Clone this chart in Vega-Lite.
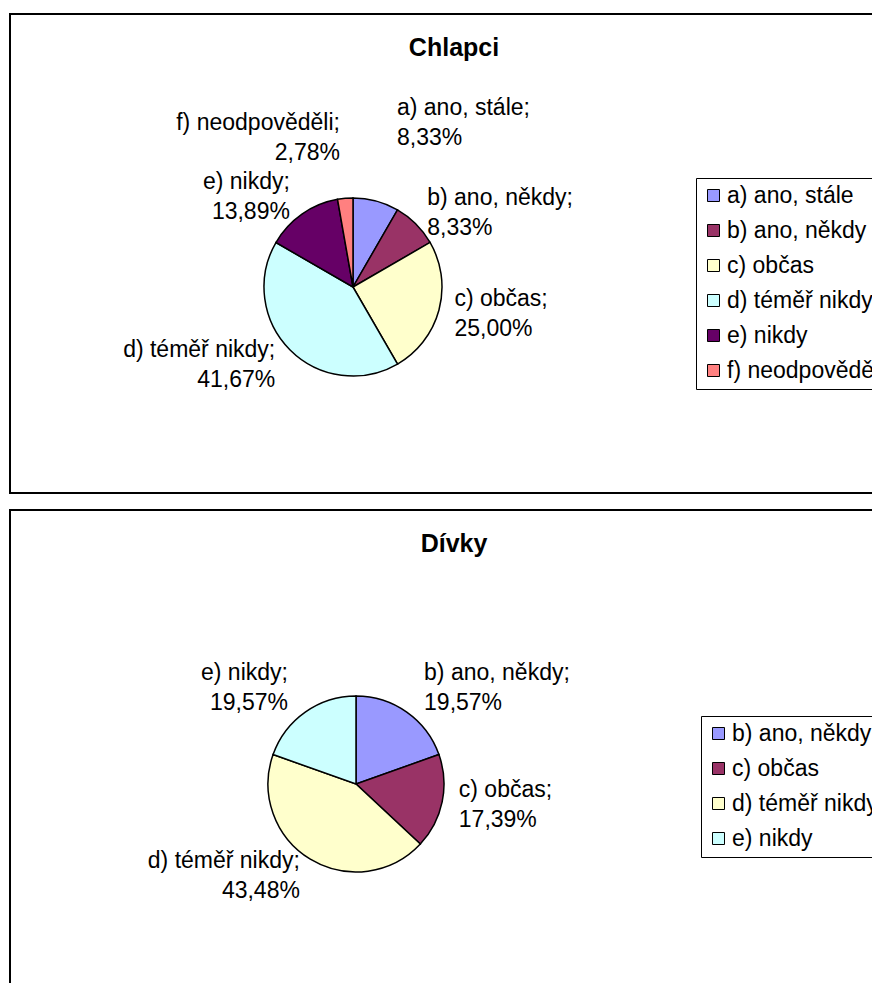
{
  "$schema": "https://vega.github.io/schema/vega-lite/v6.json",
  "padding": {"left": 9, "top": 13, "right": 0, "bottom": 0},
  "spacing": 15,
  "background": "white",
  "config": {
    "view": {"stroke": "black", "strokeWidth": 2},
    "font": "Liberation Sans",
    "title": {"font": "Liberation Sans", "fontSize": 25, "fontWeight": "bold", "color": "black", "anchor": "middle", "baseline": "alphabetic", "offset": -47},
    "text": {"baseline": "middle", "fontSize": 23, "lineHeight": 30, "dy": -15, "font": "Liberation Sans", "color": "black"},
    "legend": {
      "orient": "none", "title": null,
      "symbolType": "square", "symbolSize": 144, "symbolStrokeColor": "black", "symbolStrokeWidth": 1,
      "labelFontSize": 23, "labelFont": "Liberation Sans", "labelColor": "black", "labelLimit": 400,
      "rowPadding": 11, "labelOffset": 2, "padding": 6,
      "strokeColor": "black", "fillColor": "white"
    }
  },
  "resolve": {
    "scale": {"color": "independent", "theta": "independent", "x": "independent", "y": "independent"},
    "legend": {"color": "independent"}
  },
  "vconcat": [
    {
      "width": 888,
      "height": 479,
      "title": {"text": "Chlapci"},
      "data": {"values": [
        {"k": "a) ano, stále", "v": 8.33},
        {"k": "b) ano, někdy", "v": 8.33},
        {"k": "c) občas", "v": 25.00},
        {"k": "d) téměř nikdy", "v": 41.67},
        {"k": "e) nikdy", "v": 13.89},
        {"k": "f) neodpověděli", "v": 2.78}
      ]},
      "transform": [
        {"stack": "v", "groupby": [], "sort": [{"field": "k", "order": "ascending"}], "as": ["v0", "v1"]},
        {"calculate": "(datum.v0 + datum.v1) / 2", "as": "mid"},
        {"calculate": "[datum.k + ';', replace(format(datum.v, '.2f'), '.', ',') + '%']", "as": "lbl"}
      ],
      "encoding": {
        "x": {"datum": 343, "type": "quantitative", "scale": {"domain": [0, 888], "nice": false, "zero": false}, "axis": null},
        "y": {"datum": 273, "type": "quantitative", "scale": {"domain": [0, 479], "nice": false, "zero": false, "reverse": true}, "axis": null}
      },
      "layer": [
        {
          "mark": {"type": "arc", "outerRadius": 89, "stroke": "black", "strokeWidth": 1.5},
          "encoding": {
            "theta": {"field": "v0", "type": "quantitative", "scale": {"domain": [0, 100], "nice": false, "zero": false}},
            "theta2": {"field": "v1"},
            "color": {
              "field": "k", "type": "nominal",
              "scale": {
                "domain": ["a) ano, stále", "b) ano, někdy", "c) občas", "d) téměř nikdy", "e) nikdy", "f) neodpověděli"],
                "range": ["#9999FF", "#993366", "#FFFFCC", "#CCFFFF", "#660066", "#FF8080"]
              },
              "legend": {"legendX": 686, "legendY": 164}
            }
          }
        },
        {
          "transform": [{"filter": "datum.mid <= 50 && datum.mid >= 6"}],
          "mark": {"type": "text", "radius": 105, "align": "left"},
          "encoding": {
            "theta": {"field": "mid", "type": "quantitative", "scale": {"domain": [0, 100], "nice": false, "zero": false}},
            "text": {"field": "lbl"}
          }
        },
        {
          "transform": [{"filter": "datum.mid < 6"}],
          "mark": {"type": "text", "radius": 170, "align": "left"},
          "encoding": {
            "theta": {"field": "mid", "type": "quantitative", "scale": {"domain": [0, 100], "nice": false, "zero": false}},
            "text": {"field": "lbl"}
          }
        },
        {
          "transform": [{"filter": "datum.mid > 50 && datum.mid <= 94"}],
          "mark": {"type": "text", "radius": 110, "align": "right"},
          "encoding": {
            "theta": {"field": "mid", "type": "quantitative", "scale": {"domain": [0, 100], "nice": false, "zero": false}},
            "text": {"field": "lbl"}
          }
        },
        {
          "transform": [{"filter": "datum.mid > 94"}],
          "mark": {"type": "text", "radius": 150, "align": "right"},
          "encoding": {
            "theta": {"field": "mid", "type": "quantitative", "scale": {"domain": [0, 100], "nice": false, "zero": false}},
            "text": {"field": "lbl"}
          }
        }
      ]
    },
    {
      "width": 888,
      "height": 479,
      "title": {"text": "Dívky"},
      "data": {"values": [
        {"k": "b) ano, někdy", "v": 19.57},
        {"k": "c) občas", "v": 17.39},
        {"k": "d) téměř nikdy", "v": 43.48},
        {"k": "e) nikdy", "v": 19.57}
      ]},
      "transform": [
        {"stack": "v", "groupby": [], "sort": [{"field": "k", "order": "ascending"}], "as": ["v0", "v1"]},
        {"calculate": "(datum.v0 + datum.v1) / 2", "as": "mid"},
        {"calculate": "[datum.k + ';', replace(format(datum.v, '.2f'), '.', ',') + '%']", "as": "lbl"}
      ],
      "encoding": {
        "x": {"datum": 346, "type": "quantitative", "scale": {"domain": [0, 888], "nice": false, "zero": false}, "axis": null},
        "y": {"datum": 274, "type": "quantitative", "scale": {"domain": [0, 479], "nice": false, "zero": false, "reverse": true}, "axis": null}
      },
      "layer": [
        {
          "mark": {"type": "arc", "outerRadius": 88, "stroke": "black", "strokeWidth": 1.5},
          "encoding": {
            "theta": {"field": "v0", "type": "quantitative", "scale": {"domain": [0, 100.01], "nice": false, "zero": false}},
            "theta2": {"field": "v1"},
            "color": {
              "field": "k", "type": "nominal",
              "scale": {
                "domain": ["b) ano, někdy", "c) občas", "d) téměř nikdy", "e) nikdy"],
                "range": ["#9999FF", "#993366", "#FFFFCC", "#CCFFFF"]
              },
              "legend": {"legendX": 691, "legendY": 206}
            }
          }
        },
        {
          "transform": [{"filter": "datum.mid < 25"}],
          "mark": {"type": "text", "radius": 118, "align": "left"},
          "encoding": {
            "theta": {"field": "mid", "type": "quantitative", "scale": {"domain": [0, 100.01], "nice": false, "zero": false}},
            "text": {"field": "lbl"}
          }
        },
        {
          "transform": [{"filter": "datum.mid >= 25 && datum.mid <= 50"}],
          "mark": {"type": "text", "radius": 105, "align": "left"},
          "encoding": {
            "theta": {"field": "mid", "type": "quantitative", "scale": {"domain": [0, 100.01], "nice": false, "zero": false}},
            "text": {"field": "lbl"}
          }
        },
        {
          "transform": [{"filter": "datum.mid > 50 && datum.mid <= 75"}],
          "mark": {"type": "text", "radius": 108, "align": "right"},
          "encoding": {
            "theta": {"field": "mid", "type": "quantitative", "scale": {"domain": [0, 100.01], "nice": false, "zero": false}},
            "text": {"field": "lbl"}
          }
        },
        {
          "transform": [{"filter": "datum.mid > 75"}],
          "mark": {"type": "text", "radius": 118, "align": "right"},
          "encoding": {
            "theta": {"field": "mid", "type": "quantitative", "scale": {"domain": [0, 100.01], "nice": false, "zero": false}},
            "text": {"field": "lbl"}
          }
        }
      ]
    }
  ]
}
